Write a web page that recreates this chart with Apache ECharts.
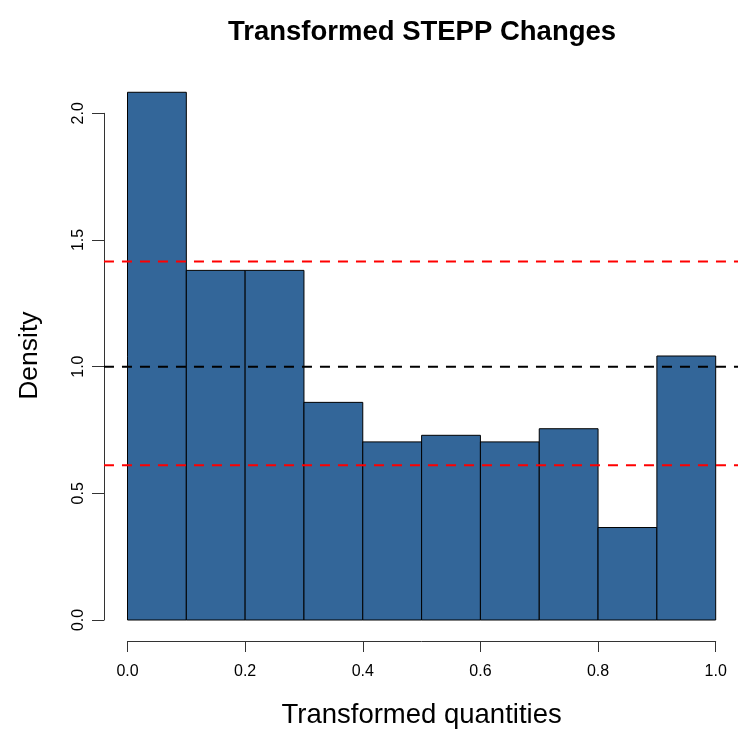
<!DOCTYPE html>
<html>
<head>
<meta charset="utf-8">
<script src="https://cdn.jsdelivr.net/npm/echarts@6/dist/echarts.min.js"></script>
<style>
html,body{margin:0;padding:0;background:#fff;}
#chart{width:738px;height:729px;}
</style>
</head>
<body>
<div id="chart"></div>
<script>
// Histogram bins (Transformed quantities) and densities
const binStart = [0.0, 0.1, 0.2, 0.3, 0.4, 0.5, 0.6, 0.7, 0.8, 0.9];
const binEnd   = [0.1, 0.2, 0.3, 0.4, 0.5, 0.6, 0.7, 0.8, 0.9, 1.0];
const density  = [2.083, 1.380, 1.380, 0.859, 0.703, 0.729, 0.703, 0.755, 0.365, 1.042];
// Reference lines (value, colour)
const refValues = [1.0, 1.415, 0.611];
const refColors = ['#000000', '#ff0000', '#ff0000'];
// Axis ticks
const xTicks = [0.0, 0.2, 0.4, 0.6, 0.8, 1.0];
const yTicks = [0.0, 0.5, 1.0, 1.5, 2.0];
const lineSpan = [-0.04, 1.04];

const FONT = '"Liberation Sans", Arial, Helvetica, sans-serif';
const chart = echarts.init(document.getElementById('chart'), null, {renderer: 'canvas'});

const histData = binStart.map((s, i) => [s, binEnd[i], density[i]]);
const refData = refValues.map((v, i) => [lineSpan[0], lineSpan[1], v, i]);

const option = {
  backgroundColor: '#ffffff',
  animation: false,
  title: {
    text: 'Transformed STEPP Changes',
    left: 417, top: 13, textAlign: 'center',
    textStyle: {fontFamily: FONT, fontWeight: 'bold', fontSize: 27.5, color: '#000'}
  },
  grid: {left: 127.5, right: 22.3, top: 113.3, bottom: 109, containLabel: false, outerBoundsMode: 'none'},
  xAxis: {
    type: 'value', min: 0, max: 1, interval: 0.2, offset: 21,
    name: 'Transformed quantities', nameLocation: 'middle', nameGap: 60,
    nameTextStyle: {fontFamily: FONT, fontSize: 27.5, color: '#000'},
    axisLine: {show: true, onZero: false, lineStyle: {color: '#333', width: 1}},
    axisTick: {show: true, length: 11, lineStyle: {color: '#333', width: 1}},
    axisLabel: {fontFamily: FONT, fontSize: 16, color: '#000', margin: 23,
      formatter: v => v.toFixed(1)},
    splitLine: {show: false}
  },
  yAxis: {
    type: 'value', min: 0, max: 2, interval: 0.5, offset: 23.5,
    name: 'Density', nameLocation: 'middle', nameGap: 61, nameRotate: 90,
    nameTextStyle: {fontFamily: FONT, fontSize: 26.5, color: '#000', padding: [0, 0, 0, 22]},
    axisLine: {show: true, onZero: false, lineStyle: {color: '#333', width: 1}},
    axisTick: {show: true, length: 12, lineStyle: {color: '#333', width: 1}},
    axisLabel: {fontFamily: FONT, fontSize: 16, color: '#000', margin: 17, rotate: 90,
      formatter: v => v.toFixed(1)},
    splitLine: {show: false}
  },
  series: [
    {
      type: 'custom',
      name: 'Histogram',
      clip: false,
      data: histData,
      encode: {x: [0, 1], y: 2},
      renderItem: function (params, api) {
        const p0 = api.coord([api.value(0), api.value(2)]);
        const p1 = api.coord([api.value(1), 0]);
        return {
          type: 'rect',
          shape: {x: p0[0], y: p0[1], width: p1[0] - p0[0], height: p1[1] - p0[1]},
          style: {fill: '#336699', stroke: '#000', lineWidth: 1}
        };
      }
    },
    {
      type: 'custom',
      name: 'Reference lines',
      clip: false,
      z: 5,
      data: refData,
      encode: {y: 2},
      renderItem: function (params, api) {
        // extrapolate the axis scale linearly beyond [0,1]
        const a = api.coord([0, api.value(2)]);
        const b = api.coord([1, api.value(2)]);
        const k = b[0] - a[0];
        const x0 = a[0] + api.value(0) * k;
        const x1 = a[0] + api.value(1) * k;
        return {
          type: 'line',
          shape: {x1: x0, y1: a[1], x2: x1, y2: a[1]},
          style: {stroke: refColors[api.value(3)], lineWidth: 2, lineDash: [10, 8]}
        };
      }
    }
  ]
};
chart.setOption(option);
</script>
</body>
</html>
